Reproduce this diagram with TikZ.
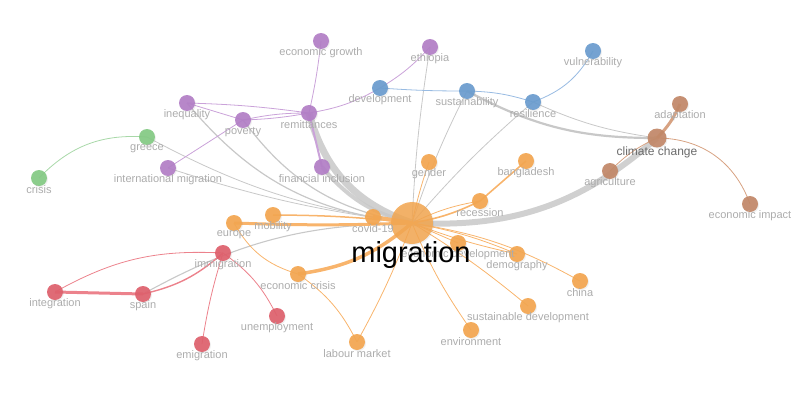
\documentclass[tikz,border=0pt]{standalone}
\usepackage{fontspec}
\setmainfont{Liberation Sans}
\usetikzlibrary{shadows}
\definecolor{corange}{RGB}{243,166,80}
\definecolor{cpurple}{RGB}{178,126,198}
\definecolor{cblue}{RGB}{106,156,206}
\definecolor{cred}{RGB}{222,96,108}
\definecolor{cgreen}{RGB}{132,202,132}
\definecolor{cbrown}{RGB}{194,136,104}
\definecolor{egray}{RGB}{200,200,200}
\definecolor{eorange}{RGB}{248,180,108}
\definecolor{epurple}{RGB}{202,162,217}
\definecolor{ered}{RGB}{236,130,140}
\definecolor{eblue}{RGB}{152,187,226}
\definecolor{egreen}{RGB}{168,216,168}
\definecolor{ebrown}{RGB}{215,162,130}
\definecolor{labgray}{RGB}{172,172,172}
\pgfdeclarelayer{edges}
\pgfsetlayers{edges,main}
\tikzset{
  kwnode/.style={circle, inner sep=0pt, minimum size=16pt, draw=none, fill opacity=0.92,
    drop shadow={opacity=0.12, shadow xshift=1pt, shadow yshift=-1.2pt}},
  kwlab/.style={text=labgray, font=\fontsize{11}{12}\selectfont, inner sep=0pt},
  ge/.style={draw=egray, line width=0.8pt},
  oe/.style={draw=eorange, line width=0.8pt},
  pe/.style={draw=epurple, line width=0.8pt},
  re/.style={draw=ered, line width=0.8pt},
  be/.style={draw=eblue, line width=0.8pt},
  gre/.style={draw=egreen, line width=0.8pt},
  bre/.style={draw=ebrown, line width=0.8pt},
}
\newcommand{\kw}[5]{%
  \node[kwnode, fill=#4] (#1) at (#2,#3) {};
  \node[kwlab] (#1-l) at (#2,#3+12) {#5};
}
\begin{document}
\begin{tikzpicture}[x=1pt,y=-1pt]
\useasboundingbox (0,0) rectangle (812,407);
% nodes
\node[kwnode, fill=corange, minimum size=42pt, fill opacity=0.85] (mig) at (412,223) {};
\node[kwnode, fill=cbrown, minimum size=19pt] (cc) at (657,138) {};
\kw{covid}{373}{217}{corange}{}
\kw{mob}{273}{215}{corange}{mobility}
\kw{eur}{234}{223}{corange}{europe}
\kw{imm}{223}{253}{cred}{immigration}
\kw{integ}{55}{292}{cred}{integration}
\kw{spain}{143}{294}{cred}{spain}
\kw{emig}{202}{344}{cred}{emigration}
\kw{unemp}{277}{316}{cred}{unemployment}
\kw{ecris}{298}{274}{corange}{economic crisis}
\kw{labour}{357}{342}{corange}{labour market}
\kw{env}{471}{330}{corange}{environment}
\kw{sdev}{528}{306}{corange}{sustainable development}
\kw{china}{580}{281}{corange}{china}
\kw{demo}{517}{254}{corange}{demography}
\kw{edev}{458}{243}{corange}{economic development}
\kw{rec}{480}{201}{corange}{recession}
\kw{bang}{526}{161}{corange}{bangladesh}
\kw{gender}{429}{162}{corange}{gender}
\kw{fin}{322}{167}{cpurple}{financial inclusion}
\kw{remit}{309}{113}{cpurple}{remittances}
\kw{egrow}{321}{41}{cpurple}{economic growth}
\kw{eth}{430}{47}{cpurple}{ethiopia}
\kw{dev}{380}{88}{cblue}{development}
\kw{sust}{467}{91}{cblue}{sustainability}
\kw{res}{533}{102}{cblue}{resilience}
\kw{vul}{593}{51}{cblue}{vulnerability}
\kw{adapt}{680}{104}{cbrown}{adaptation}
\kw{agri}{610}{171}{cbrown}{agriculture}
\kw{eimp}{750}{204}{cbrown}{economic impact}
\kw{ineq}{187}{103}{cpurple}{inequality}
\kw{pov}{243}{120}{cpurple}{poverty}
\kw{greece}{147}{137}{cgreen}{greece}
\kw{crisis}{39}{178}{cgreen}{crisis}
\kw{intl}{168}{168}{cpurple}{international migration}
\node[kwlab] (covid-l) at (373,229) {covid-19};
\node[text=black!58, font=\fontsize{12}{13}\selectfont, inner sep=0pt] (cc-l) at (657,152) {climate change};
\node[text=black, font=\fontsize{29}{30}\selectfont, inner sep=0pt] (mig-l) at (411,255) {migration};
% edges
\begin{pgfonlayer}{edges}
% gray inter-cluster edges
\draw[ge, line width=7pt, draw opacity=0.85] (mig.center) to[bend left=28] (remit.center);
\draw[ge, line width=4pt, draw opacity=0.85] (mig.center) to[bend left=18] (fin.center);
\draw[ge, line width=6pt, draw opacity=0.85] (mig.center) to[bend right=22] (cc.center);
\draw[ge, line width=2.2pt] (sust.center) to[bend right=14] (cc.center);
\draw[ge] (res.center) to[bend right=8] (cc.center);
\draw[ge] (eth.center) to[bend right=3] (mig.center);
\draw[ge] (sust.center) to[bend right=4] (mig.center);
\draw[ge] (res.center) to[bend right=4] (mig.center);
\draw[ge, line width=1.2pt] (ineq.center) to[bend right=22] (mig.center);
\draw[ge, line width=1.2pt] (pov.center) to[bend right=22] (mig.center);
\draw[ge] (greece.center) to[bend right=10] (mig.center);
\draw[ge] (intl.center) to[bend right=5] (mig.center);
\draw[ge, line width=1.1pt] (spain.center) to[bend left=14] (mig.center);
% orange edges
\draw[oe, line width=4pt] (mig.center) -- (covid.center);
\draw[oe, line width=3pt] (eur.center) to[bend right=2] (mig.center);
\draw[oe, line width=1.5pt] (mob.center) to[bend left=3] (mig.center);
\draw[oe, line width=3.5pt] (ecris.center) to[bend right=16] (mig.center);
\draw[oe] (labour.center) to[bend right=4] (mig.center);
\draw[oe] (ecris.center) to[bend left=14] (labour.center);
\draw[oe] (eur.center) to[bend right=22] (ecris.center);
\draw[oe] (mig.center) to[bend right=6] (env.center);
\draw[oe] (mig.center) to[bend left=4] (sdev.center);
\draw[oe] (mig.center) to[bend left=10] (china.center);
\draw[oe] (mig.center) to[bend left=6] (demo.center);
\draw[oe] (mig.center) to[bend right=4] (demo.center);
\draw[oe] (mig.center) -- (edev.center);
\draw[oe] (mig.center) to[bend left=8] (rec.center);
\draw[oe, line width=1.6pt] (mig.center) to[bend right=8] (rec.center);
\draw[oe, line width=1.6pt] (rec.center) -- (bang.center);
\draw[oe] (mig.center) to[bend left=3] (gender.center);
% red edges
\draw[re, line width=3pt] (integ.center) -- (spain.center);
\draw[re] (integ.center) to[bend left=16] (imm.center);
\draw[re, line width=1.4pt] (spain.center) to[bend right=14] (imm.center);
\draw[re] (imm.center) to[bend right=4] (emig.center);
\draw[re] (imm.center) to[bend left=14] (unemp.center);
% purple edges
\draw[pe] (ineq.center) to[bend left=3] (remit.center);
\draw[pe] (ineq.center) -- (pov.center);
\draw[pe] (pov.center) to[bend left=6] (remit.center);
\draw[pe] (pov.center) to[bend right=4] (remit.center);
\draw[pe] (remit.center) to[bend right=3] (egrow.center);
\draw[pe] (remit.center) to[bend right=10] (dev.center);
\draw[pe] (dev.center) to[bend right=8] (eth.center);
\draw[pe, line width=2pt] (remit.center) -- (fin.center);
\draw[pe] (intl.center) -- (pov.center);
% blue edges
\draw[be] (dev.center) to[bend right=2] (sust.center);
\draw[be] (sust.center) to[bend left=8] (res.center);
\draw[be] (res.center) to[bend right=20] (vul.center);
% green
\draw[gre] (crisis.center) to[bend left=25] (greece.center);
% brown
\draw[bre, line width=3pt] (cc.center) to[bend right=10] (adapt.center);
\draw[bre] (cc.center) to[bend left=35] (eimp.center);
\draw[bre] (agri.center) to[bend left=10] (cc.center);
\end{pgfonlayer}
\end{tikzpicture}
\end{document}
